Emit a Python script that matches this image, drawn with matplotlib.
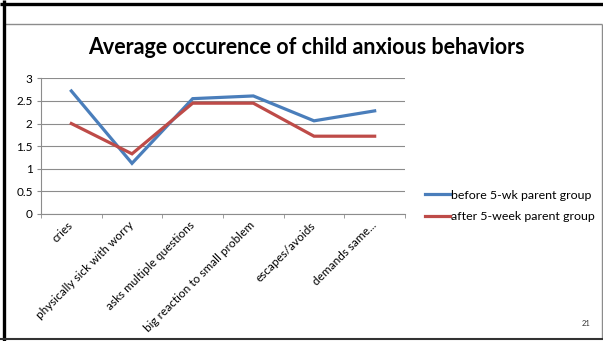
import matplotlib
matplotlib.use('Agg')
import matplotlib.pyplot as plt
from matplotlib.lines import Line2D

plt.rcParams['font.family'] = ['Lato', 'DejaVu Sans']

behaviors = ['cries', 'physically sick with worry', 'asks multiple questions',
             'big reaction to small problem', 'escapes/avoids', 'demands same...']
before_group = [2.72, 1.12, 2.55, 2.61, 2.06, 2.28]
after_group = [2.0, 1.33, 2.45, 2.45, 1.72, 1.72]
series_names = ['before 5-wk parent group', 'after 5-week parent group']

W, H = 603, 341
fig = plt.figure(figsize=(W / 100, H / 100), dpi=100)

# slide frame
def fline(x0, y0, x1, y1, color, lw):
    fig.add_artist(Line2D([x0 / W, x1 / W], [1 - y0 / H, 1 - y1 / H],
                          transform=fig.transFigure, color=color, lw=lw,
                          solid_capstyle='butt'))

fline(4, 24, 602, 24, '#8c8c8c', 1.0)
fline(602, 24, 602, 339, '#8c8c8c', 1.0)
fline(0, 4, W, 4, 'black', 2.4)
fline(4, 0, 4, H, 'black', 2.4)
fline(0, 339, W, 339, '#333333', 1.5)

ax = fig.add_axes([41 / W, 1 - 214 / H, (405 - 41) / W, (214 - 78.3) / H])
x = range(len(behaviors))
l1, = ax.plot(x, before_group, color='#4a7ebb', lw=2.3, solid_joinstyle='miter')
l2, = ax.plot(x, after_group, color='#be4b48', lw=2.3, solid_joinstyle='miter')

ax.set_xlim(-0.5, len(behaviors) - 0.5)
ax.set_ylim(0, 3)
ax.set_yticks([0, 0.5, 1, 1.5, 2, 2.5, 3])
ax.set_yticklabels(['0', '0.5', '1', '1.5', '2', '2.5', '3'], fontsize=8.5)
ax.yaxis.grid(True, color='#8c8c8c', lw=0.8)
ax.set_axisbelow(True)

ax.set_xticks(list(x))
ax.set_xticklabels(behaviors, rotation=45, ha='right', va='center',
                   rotation_mode='anchor', fontsize=8.5)
ax.tick_params(axis='x', length=0, pad=7)
ax.set_xticks([i - 0.5 for i in range(len(behaviors) + 1)], minor=True)
ax.tick_params(axis='x', which='minor', length=3, color='#8c8c8c', direction='out')
ax.tick_params(axis='y', length=3, color='#8c8c8c', pad=3)

for s in ['top', 'right']:
    ax.spines[s].set_visible(False)
for s in ['left', 'bottom']:
    ax.spines[s].set_color('#8c8c8c')
    ax.spines[s].set_linewidth(0.8)

fig.text(306 / W, 1 - 48 / H, 'Average occurence of child anxious behaviors',
         ha='center', va='center', fontsize=15.5, fontweight='bold')

fig.legend([l1, l2], series_names, loc='center left',
           bbox_to_anchor=(423 / W, 1 - 206 / H), frameon=False, fontsize=8.9,
           handlelength=1.95, handletextpad=0.1, labelspacing=0.85,
           borderpad=0.2, borderaxespad=0.0)

fig.text(586 / W, 1 - 323 / H, '21', ha='center', va='center', fontsize=5.5,
         color='#333333')

fig.savefig('out.png', dpi=100)
